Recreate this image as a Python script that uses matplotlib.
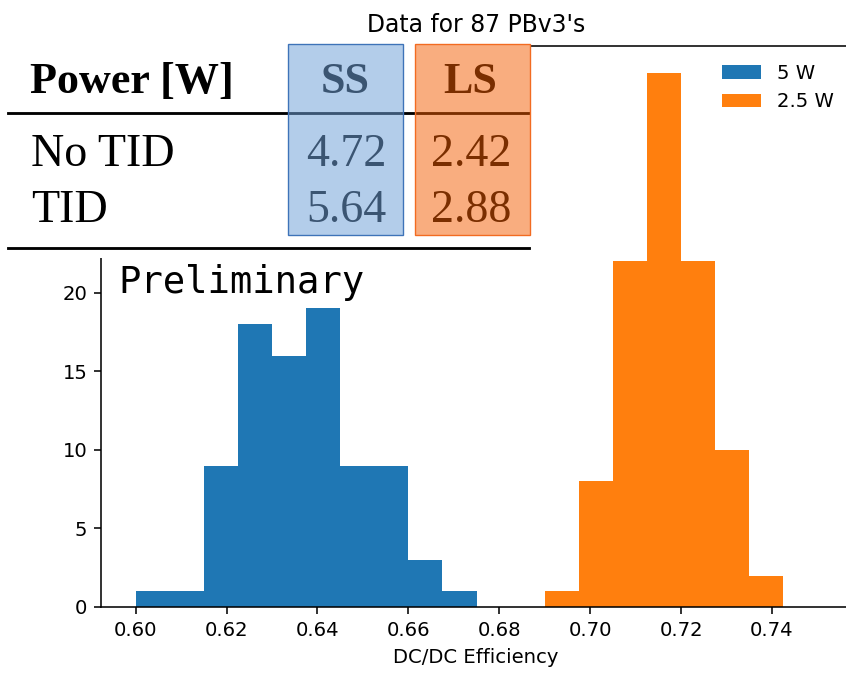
import matplotlib
matplotlib.use('Agg')
import matplotlib.pyplot as plt
from matplotlib.lines import Line2D
from matplotlib.patches import Rectangle

# histogram data
blue_edges = [0.6, 0.6075, 0.615, 0.6225, 0.63, 0.6375, 0.645, 0.6525, 0.66, 0.6675, 0.675]
blue_counts = [1, 1, 9, 18, 16, 19, 9, 9, 3, 1]
orange_edges = [0.69, 0.6975, 0.705, 0.7125, 0.72, 0.7275, 0.735, 0.7425]
orange_counts = [1, 8, 22, 34, 22, 10, 2]
series_labels = ['5 W', '2.5 W']

# table pasted on top of the plot
table_header = ['Power [W]', 'SS', 'LS']
row_labels = ['No TID', 'TID']
ss_values = ['4.72', '5.64']
ls_values = ['2.42', '2.88']

W, H = 846, 673
DPI = 141


def fx(x):
    return x / W


def fy(y):
    return 1 - y / H


def centers(edges):
    return [(a + b) / 2 for a, b in zip(edges[:-1], edges[1:])]


fig = plt.figure(figsize=(W / DPI, H / DPI), dpi=DPI)
ax = fig.add_axes([fx(101), fy(607), fx(851) - fx(101), fy(46) - fy(607)])

ax.hist(centers(blue_edges), bins=blue_edges, weights=blue_counts,
        color='C0', label=series_labels[0])
ax.hist(centers(orange_edges), bins=orange_edges, weights=orange_counts,
        color='C1', label=series_labels[1])

ax.set_xlim(0.59237, 0.75738)
ax.set_ylim(0, 35.7)
ax.set_xticks([0.60, 0.62, 0.64, 0.66, 0.68, 0.70, 0.72, 0.74])
# ticks at 25 and 30 sit under the table image anyway
ax.set_yticks([0, 5, 10, 15, 20])
ax.spines['right'].set_visible(False)
ax.set_xlabel('DC/DC Efficiency')
ax.set_title("Data for 87 PBv3's", pad=7)
ax.legend(loc='upper right', frameon=False)

ax.text(fx(118), fy(293), 'Preliminary', transform=fig.transFigure,
        family='DejaVu Sans Mono', fontsize=19, va='baseline', ha='left',
        zorder=10)

# white backdrop of the table image
fig.add_artist(Rectangle((0, fy(258)), fx(530), fy(38) - fy(258),
                         transform=fig.transFigure, facecolor='white',
                         edgecolor='none', zorder=5))

serif = 'Liberation Serif'
fig.text(fx(30), fy(93), table_header[0], family=serif, weight='bold',
         fontsize=22.5, va='baseline', ha='left', zorder=6)
fig.text(fx(345), fy(93), table_header[1], family=serif, weight='bold',
         fontsize=22.5, va='baseline', ha='center', zorder=6)
fig.text(fx(470), fy(93), table_header[2], family=serif, weight='bold',
         fontsize=22.5, va='baseline', ha='center', zorder=6)

row_y = [166, 222]
for label, ss, ls, y in zip(row_labels, ss_values, ls_values, row_y):
    fig.text(fx(31), fy(y), label, family=serif, fontsize=23.5,
             va='baseline', ha='left', zorder=6)
    fig.text(fx(346), fy(y), ss, family=serif, fontsize=23.5,
             va='baseline', ha='center', zorder=6)
    fig.text(fx(471), fy(y), ls, family=serif, fontsize=23.5,
             va='baseline', ha='center', zorder=6)

for y in [113.3, 248.3]:
    fig.add_artist(Line2D([fx(8), fx(529)], [fy(y), fy(y)],
                          transform=fig.transFigure, color='black',
                          lw=1.45, zorder=6))

# translucent column highlights
fig.add_artist(Rectangle((fx(287.5), fy(234.5)), fx(402.5) - fx(287.5),
                         fy(44) - fy(234.5), transform=fig.transFigure,
                         facecolor=(0.44, 0.63, 0.85, 0.53),
                         edgecolor='#3e73b8', lw=0.7, zorder=7))
fig.add_artist(Rectangle((fx(414.5), fy(234.5)), fx(529.5) - fx(414.5),
                         fy(44) - fy(234.5), transform=fig.transFigure,
                         facecolor=(0.956, 0.36, 0.0, 0.5),
                         edgecolor='#f26b21', lw=0.7, zorder=7))

fig.savefig('out.png', dpi=DPI)
